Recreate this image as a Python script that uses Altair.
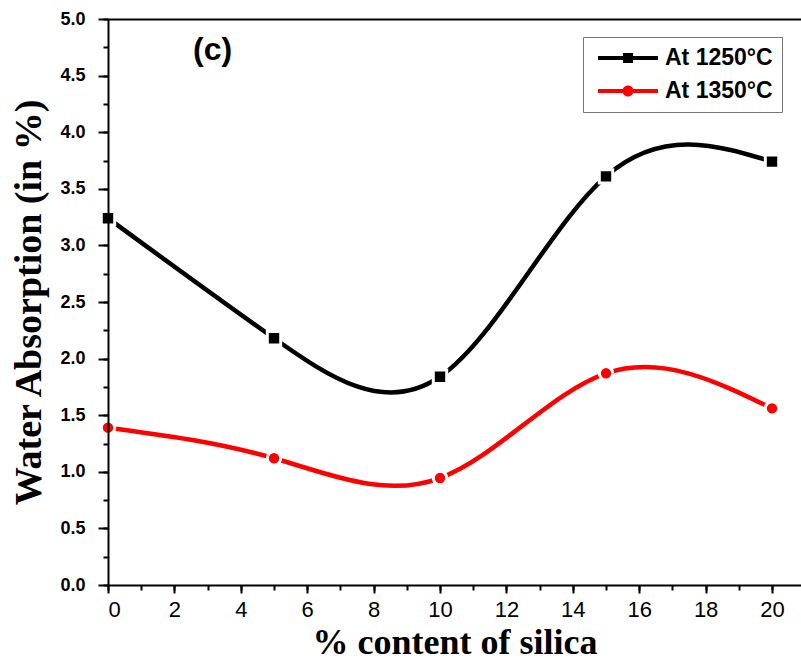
import altair as alt
import pandas as pd

# ---- data ----
silica = [0, 5, 10, 15, 20]
wa_1250 = [3.24, 2.18, 1.84, 3.61, 3.74]
wa_1350 = [1.39, 1.12, 0.945, 1.87, 1.56]
series_names = ["At 1250°C", "At 1350°C"]
series_colors = ["#000000", "#ff0000"]
series_shapes = ["square", "circle"]

x_major = [0, 2, 4, 6, 8, 10, 12, 14, 16, 18, 20]
x_minor = list(range(0, 21))
y_major = [0.0, 0.5, 1.0, 1.5, 2.0, 2.5, 3.0, 3.5, 4.0, 4.5, 5.0]
y_minor = [0.25 * i for i in range(21)]

rows = []
for name, vals in zip(series_names, [wa_1250, wa_1350]):
    for s, v in zip(silica, vals):
        rows.append({"silica": s, "wa": v, "series": name})
df = pd.DataFrame(rows)

# legend symbols: line with square / line with circle
P_SQ = "M-2.5,-0.17H2.5V0.17H-2.5Z M-0.42,-0.42H0.42V0.42H-0.42Z"
P_CI = ("M-2.5,-0.17H2.5V0.17H-2.5Z "
        "M-0.46,0A0.46,0.46 0 1,1 0.46,0A0.46,0.46 0 1,1 -0.46,0Z")
SYMBOL_EXPR = f"indexof(datum.value, '1250') >= 0 ? '{P_SQ}' : '{P_CI}'"

xscale = alt.Scale(domain=[0, 20.873], nice=False, zero=False)
yscale = alt.Scale(domain=[0, 5], nice=False, zero=False)
cscale = alt.Scale(domain=series_names, range=series_colors)

x_major_axis = alt.Axis(
    values=x_major, orient="bottom", grid=False, labelOverlap=False,
    labelFont="Liberation Sans", labelFontSize=22, labelFontWeight="normal",
    labelColor="black", labelPadding=6, tickSize=8, tickWidth=2, tickColor="black",
    domainWidth=2, domainColor="black", title="% content of silica",
    titleFont="Liberation Serif", titleFontSize=36, titleFontWeight="bold",
    titleColor="black", titlePadding=5, zindex=1)
x_minor_axis = alt.Axis(
    values=x_minor, orient="bottom", grid=False, labels=False, domain=False,
    title=None, tickSize=5, tickWidth=2, tickColor="black", zindex=1)
x_top_axis = alt.Axis(
    orient="top", grid=False, labels=False, ticks=False, domain=True,
    domainWidth=2, domainColor="black", title=None, zindex=1)

y_major_axis = alt.Axis(
    values=y_major, format=".1f", orient="left", grid=False, labelOverlap=False,
    labelFont="Liberation Sans", labelFontSize=18, labelFontWeight="bold",
    labelColor="black", labelPadding=13, tickSize=10, tickWidth=2, tickColor="black",
    domainWidth=2, domainColor="black", title="Water Absorption (in %)",
    titleFont="Liberation Serif", titleFontSize=38, titleFontWeight="bold",
    titleColor="black", titlePadding=11, zindex=1)
y_minor_axis = alt.Axis(
    values=y_minor, orient="left", grid=False, labels=False, domain=False,
    title=None, tickSize=5, tickWidth=2, tickColor="black", zindex=1)

legend = alt.Legend(
    title=None, orient="none", legendX=475, legendY=18, padding=9,
    strokeColor="#777777", fillColor="white",
    symbolSize=576, symbolOffset=24, labelOffset=25, rowPadding=9,
    symbolStrokeWidth=0, symbolOpacity=1,
    symbolType=alt.ExprRef(SYMBOL_EXPR),
    labelFont="Liberation Sans", labelFontSize=23, labelFontWeight="bold",
    labelColor="black",
)

base = alt.Chart(df)

lines = base.mark_line(interpolate="natural", strokeWidth=4.5).encode(
    x=alt.X("silica:Q", scale=xscale, axis=x_major_axis),
    y=alt.Y("wa:Q", scale=yscale, axis=y_major_axis),
    color=alt.Color("series:N", scale=cscale, legend=legend),
)

# invisible filled points that only carry the legend fill colours
legend_carrier = base.mark_point(filled=True, opacity=0).encode(
    x=alt.X("silica:Q", scale=xscale, axis=x_minor_axis),
    y=alt.Y("wa:Q", scale=yscale, axis=y_minor_axis),
    color=alt.Color("series:N", scale=cscale, legend=legend),
)


def marker_layer(i):
    return base.transform_filter(alt.datum.series == series_names[i]).mark_point(
        filled=True, shape=series_shapes[i], color=series_colors[i], size=180,
        stroke="white", strokeWidth=3, opacity=1,
    ).encode(
        x=alt.X("silica:Q", scale=xscale, axis=None),
        y=alt.Y("wa:Q", scale=yscale, axis=None),
    )


squares = marker_layer(0)
circles = marker_layer(1)

frame_top = base.mark_line(opacity=0).encode(
    x=alt.X("silica:Q", scale=xscale, axis=x_top_axis),
    y=alt.Y("wa:Q", scale=yscale, axis=None),
    detail="series:N",
)

chart = alt.layer(lines, legend_carrier, squares, circles, frame_top).resolve_axis(
    x="independent", y="independent"
).properties(
    width=693, height=566,
    autosize=alt.AutoSizeParams(type="none"),
    padding={"left": 108, "top": 19, "right": 0, "bottom": 76},
    background="white",
    title=alt.TitleParams(
        "(c)", anchor="start", frame="group", orient="top", offset=0,
        dx=85, dy=72, baseline="middle", font="Liberation Sans",
        fontSize=32, fontWeight="bold", color="black"),
).configure_view(stroke="transparent")

chart.save("out.html", embed_options={"renderer": "svg", "actions": False})
